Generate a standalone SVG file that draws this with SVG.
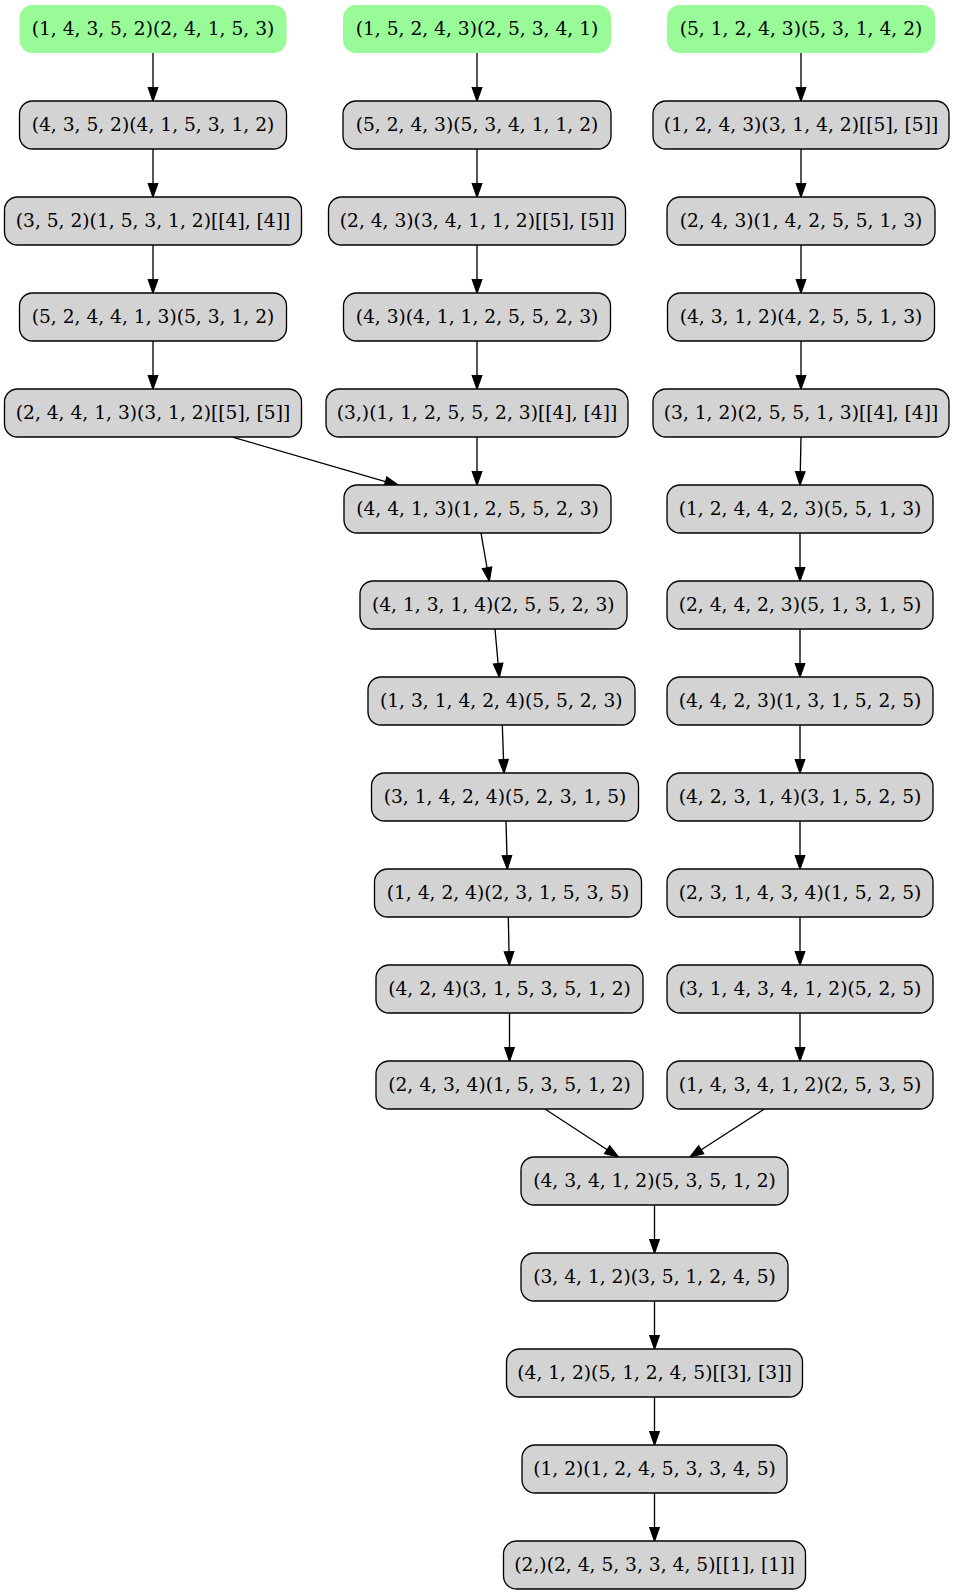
<svg xmlns="http://www.w3.org/2000/svg" width="955" height="1595" viewBox="0 0 955 1595">
<defs>
<style>
.n rect{fill:#d3d3d3;stroke:#000;stroke-width:1.33}
.g rect{fill:#98fb98;stroke:none}
text{font-family:"DejaVu Serif","Liberation Serif",serif;font-size:18.67px;text-anchor:middle;fill:#000}
.e line{stroke:#000;stroke-width:1.33;marker-end:url(#ah)}
</style>
<marker id="ah" markerUnits="userSpaceOnUse" markerWidth="16" markerHeight="12" refX="13.3" refY="4.67" orient="auto" overflow="visible">
<path d="M0,0 L13.3,4.67 L0,9.33 z" fill="#000" stroke="#000" stroke-width="1.33"/>
</marker>
</defs>
<rect width="955" height="1595" fill="#fff"/>
<g id="edges" class="e">
<line x1="153" y1="53" x2="153" y2="101"/>
<line x1="153" y1="149" x2="153" y2="197"/>
<line x1="153" y1="245" x2="153" y2="293"/>
<line x1="153" y1="341" x2="153" y2="389"/>
<line x1="233.3" y1="437.3" x2="398.3" y2="485.3"/>
<line x1="477" y1="53" x2="477" y2="101"/>
<line x1="477" y1="149" x2="477" y2="197"/>
<line x1="477" y1="245" x2="477" y2="293"/>
<line x1="477" y1="341" x2="477" y2="389"/>
<line x1="477" y1="437" x2="477" y2="485"/>
<line x1="481" y1="533" x2="489.3" y2="581"/>
<line x1="495" y1="629" x2="499.3" y2="677"/>
<line x1="502.3" y1="725" x2="504" y2="773"/>
<line x1="506" y1="821" x2="507.3" y2="869"/>
<line x1="508.3" y1="917" x2="509.3" y2="965"/>
<line x1="509.5" y1="1013" x2="509.5" y2="1061"/>
<line x1="545" y1="1109" x2="618.3" y2="1157"/>
<line x1="801" y1="53" x2="801" y2="101"/>
<line x1="801" y1="149" x2="801" y2="197"/>
<line x1="801" y1="245" x2="801" y2="293"/>
<line x1="801" y1="341" x2="801" y2="389"/>
<line x1="801" y1="437" x2="800" y2="485"/>
<line x1="800" y1="533" x2="800" y2="581"/>
<line x1="800" y1="629" x2="800" y2="677"/>
<line x1="800" y1="725" x2="800" y2="773"/>
<line x1="800" y1="821" x2="800" y2="869"/>
<line x1="800" y1="917" x2="800" y2="965"/>
<line x1="800" y1="1013" x2="800" y2="1061"/>
<line x1="764.3" y1="1109" x2="690" y2="1157"/>
<line x1="654.5" y1="1205" x2="654.5" y2="1253"/>
<line x1="654.5" y1="1301" x2="654.5" y2="1349"/>
<line x1="654.5" y1="1397" x2="654.5" y2="1445"/>
<line x1="654.5" y1="1493" x2="654.5" y2="1541"/>
</g>
<g id="A0" class="g"><rect x="19.5" y="5" width="267" height="48" rx="13"/><text x="153" y="35">(1, 4, 3, 5, 2)(2, 4, 1, 5, 3)</text></g>
<g id="B0" class="g"><rect x="343" y="5" width="268" height="48" rx="13"/><text x="477" y="35">(1, 5, 2, 4, 3)(2, 5, 3, 4, 1)</text></g>
<g id="C0" class="g"><rect x="667" y="5" width="268" height="48" rx="13"/><text x="801" y="35">(5, 1, 2, 4, 3)(5, 3, 1, 4, 2)</text></g>
<g id="A1" class="n"><rect x="19.5" y="101" width="267" height="48" rx="13"/><text x="153" y="131">(4, 3, 5, 2)(4, 1, 5, 3, 1, 2)</text></g>
<g id="B1" class="n"><rect x="343" y="101" width="268" height="48" rx="13"/><text x="477" y="131">(5, 2, 4, 3)(5, 3, 4, 1, 1, 2)</text></g>
<g id="C1" class="n"><rect x="653" y="101" width="296" height="48" rx="13"/><text x="801" y="131">(1, 2, 4, 3)(3, 1, 4, 2)[[5], [5]]</text></g>
<g id="A2" class="n"><rect x="4.5" y="197" width="297" height="48" rx="13"/><text x="153" y="227">(3, 5, 2)(1, 5, 3, 1, 2)[[4], [4]]</text></g>
<g id="B2" class="n"><rect x="328.5" y="197" width="297" height="48" rx="13"/><text x="477" y="227">(2, 4, 3)(3, 4, 1, 1, 2)[[5], [5]]</text></g>
<g id="C2" class="n"><rect x="667" y="197" width="268" height="48" rx="13"/><text x="801" y="227">(2, 4, 3)(1, 4, 2, 5, 5, 1, 3)</text></g>
<g id="A3" class="n"><rect x="19.5" y="293" width="267" height="48" rx="13"/><text x="153" y="323">(5, 2, 4, 4, 1, 3)(5, 3, 1, 2)</text></g>
<g id="B3" class="n"><rect x="343.5" y="293" width="267" height="48" rx="13"/><text x="477" y="323">(4, 3)(4, 1, 1, 2, 5, 5, 2, 3)</text></g>
<g id="C3" class="n"><rect x="667.5" y="293" width="267" height="48" rx="13"/><text x="801" y="323">(4, 3, 1, 2)(4, 2, 5, 5, 1, 3)</text></g>
<g id="A4" class="n"><rect x="4.5" y="389" width="297" height="48" rx="13"/><text x="153" y="419">(2, 4, 4, 1, 3)(3, 1, 2)[[5], [5]]</text></g>
<g id="B4" class="n"><rect x="326" y="389" width="302" height="48" rx="13"/><text x="477" y="419">(3,)(1, 1, 2, 5, 5, 2, 3)[[4], [4]]</text></g>
<g id="C4" class="n"><rect x="653" y="389" width="296" height="48" rx="13"/><text x="801" y="419">(3, 1, 2)(2, 5, 5, 1, 3)[[4], [4]]</text></g>
<g id="B5" class="n"><rect x="344" y="485" width="267" height="48" rx="13"/><text x="477.5" y="515">(4, 4, 1, 3)(1, 2, 5, 5, 2, 3)</text></g>
<g id="C5" class="n"><rect x="667" y="485" width="266" height="48" rx="13"/><text x="800" y="515">(1, 2, 4, 4, 2, 3)(5, 5, 1, 3)</text></g>
<g id="B6" class="n"><rect x="360" y="581" width="267" height="48" rx="13"/><text x="493.3" y="611">(4, 1, 3, 1, 4)(2, 5, 5, 2, 3)</text></g>
<g id="C6" class="n"><rect x="667" y="581" width="266" height="48" rx="13"/><text x="800" y="611">(2, 4, 4, 2, 3)(5, 1, 3, 1, 5)</text></g>
<g id="B7" class="n"><rect x="368" y="677" width="267" height="48" rx="13"/><text x="501.3" y="707">(1, 3, 1, 4, 2, 4)(5, 5, 2, 3)</text></g>
<g id="C7" class="n"><rect x="667" y="677" width="266" height="48" rx="13"/><text x="800" y="707">(4, 4, 2, 3)(1, 3, 1, 5, 2, 5)</text></g>
<g id="B8" class="n"><rect x="371.5" y="773" width="267" height="48" rx="13"/><text x="505" y="803">(3, 1, 4, 2, 4)(5, 2, 3, 1, 5)</text></g>
<g id="C8" class="n"><rect x="667" y="773" width="266" height="48" rx="13"/><text x="800" y="803">(4, 2, 3, 1, 4)(3, 1, 5, 2, 5)</text></g>
<g id="B9" class="n"><rect x="374.5" y="869" width="267" height="48" rx="13"/><text x="508" y="899">(1, 4, 2, 4)(2, 3, 1, 5, 3, 5)</text></g>
<g id="C9" class="n"><rect x="667" y="869" width="266" height="48" rx="13"/><text x="800" y="899">(2, 3, 1, 4, 3, 4)(1, 5, 2, 5)</text></g>
<g id="B10" class="n"><rect x="376" y="965" width="267" height="48" rx="13"/><text x="509.5" y="995">(4, 2, 4)(3, 1, 5, 3, 5, 1, 2)</text></g>
<g id="C10" class="n"><rect x="667" y="965" width="266" height="48" rx="13"/><text x="800" y="995">(3, 1, 4, 3, 4, 1, 2)(5, 2, 5)</text></g>
<g id="B11" class="n"><rect x="376" y="1061" width="267" height="48" rx="13"/><text x="509.5" y="1091">(2, 4, 3, 4)(1, 5, 3, 5, 1, 2)</text></g>
<g id="C11" class="n"><rect x="667" y="1061" width="266" height="48" rx="13"/><text x="800" y="1091">(1, 4, 3, 4, 1, 2)(2, 5, 3, 5)</text></g>
<g id="D12" class="n"><rect x="521" y="1157" width="267" height="48" rx="13"/><text x="654.5" y="1187">(4, 3, 4, 1, 2)(5, 3, 5, 1, 2)</text></g>
<g id="D13" class="n"><rect x="521" y="1253" width="267" height="48" rx="13"/><text x="654.5" y="1283">(3, 4, 1, 2)(3, 5, 1, 2, 4, 5)</text></g>
<g id="D14" class="n"><rect x="506.5" y="1349" width="296" height="48" rx="13"/><text x="654.5" y="1379">(4, 1, 2)(5, 1, 2, 4, 5)[[3], [3]]</text></g>
<g id="D15" class="n"><rect x="522" y="1445" width="265" height="48" rx="13"/><text x="654.5" y="1475">(1, 2)(1, 2, 4, 5, 3, 3, 4, 5)</text></g>
<g id="D16" class="n"><rect x="503.5" y="1541" width="302" height="48" rx="13"/><text x="654.5" y="1571">(2,)(2, 4, 5, 3, 3, 4, 5)[[1], [1]]</text></g>
</svg>
